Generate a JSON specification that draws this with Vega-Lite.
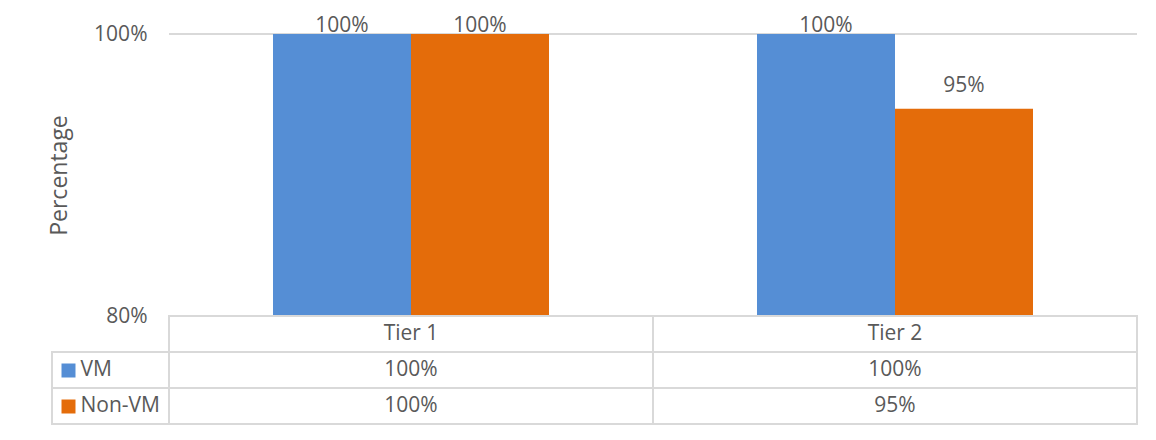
{
  "$schema": "https://vega.github.io/schema/vega-lite/v6.json",
  "width": 1085,
  "height": 390,
  "autosize": {"type": "none"},
  "padding": {"left": 52, "top": 34, "right": 19, "bottom": 16},
  "background": "white",
  "config": {
    "view": {"stroke": null},
    "font": "Open Sans",
    "text": {"font": "Open Sans", "fontSize": 21, "color": "#595959"}
  },
  "datasets": {
    "scores": [
      {"tier": "Tier 1", "series": "VM", "value": 1.0},
      {"tier": "Tier 1", "series": "Non-VM", "value": 1.0},
      {"tier": "Tier 2", "series": "VM", "value": 1.0},
      {"tier": "Tier 2", "series": "Non-VM", "value": 0.947}
    ]
  },
  "data": {"name": "scores"},
  "layer": [
    {
      "layer": [
        {
          "transform": [{"filter": "datum.series === 'VM'"}],
          "mark": {"type": "rect", "fillOpacity": 0, "stroke": "#d9d9d9", "strokeWidth": 2},
          "encoding": {
            "x": {"field": "tier", "type": "nominal", "scale": {"domain": ["Tier 1", "Tier 2"], "range": [117, 1085], "paddingInner": 0, "paddingOuter": 0}, "axis": null},
            "y": {"datum": 1, "type": "quantitative"},
            "y2": {"datum": 1}
          }
        },
        {
          "mark": {"type": "bar"},
          "encoding": {
            "x": {"field": "tier", "type": "nominal", "scale": {"domain": ["Tier 1", "Tier 2"], "range": [117, 1085], "paddingInner": 0, "paddingOuter": 0}, "axis": null},
            "xOffset": {"field": "series", "type": "nominal", "scale": {"domain": ["VM", "Non-VM"], "paddingOuter": 0.7536, "paddingInner": 0}},
            "y": {
              "field": "value", "type": "quantitative",
              "scale": {"domain": [0.8, 1], "range": [282, 0], "zero": false, "nice": false},
              "axis": {
                "orient": "left", "offset": -117, "values": [0.8, 1], "format": ".0%",
                "ticks": false, "domain": false, "grid": false, "zindex": 1,
                "labelPadding": 22, "labelFontSize": 21, "labelColor": "#595959", "labelFont": "Open Sans",
                "title": "Percentage", "titleFontSize": 23, "titleFontWeight": "normal",
                "titleColor": "#595959", "titleFont": "Open Sans", "titlePadding": 22
              }
            },
            "y2": {"datum": 0.8},
            "color": {"field": "series", "type": "nominal", "scale": {"domain": ["VM", "Non-VM"], "range": ["#558ed5", "#e46c0a"]}, "legend": null}
          }
        },
        {
          "transform": [{"filter": "datum.value >= 0.995"}],
          "mark": {"type": "text", "baseline": "alphabetic", "dy": -2, "fontSize": 21, "color": "#595959"},
          "encoding": {
            "x": {"field": "tier", "type": "nominal"},
            "xOffset": {"field": "series", "type": "nominal"},
            "y": {"field": "value", "type": "quantitative"},
            "text": {"field": "value", "type": "quantitative", "format": ".0%"}
          }
        },
        {
          "transform": [{"filter": "datum.value < 0.995"}],
          "mark": {"type": "text", "baseline": "alphabetic", "dy": -17, "fontSize": 21, "color": "#595959"},
          "encoding": {
            "x": {"field": "tier", "type": "nominal"},
            "xOffset": {"field": "series", "type": "nominal"},
            "y": {"field": "value", "type": "quantitative"},
            "text": {"field": "value", "type": "quantitative", "format": ".0%"}
          }
        }
      ]
    },
    {
      "layer": [
        {
          "transform": [{"filter": "datum.tier === 'Tier 1'"}],
          "mark": {"type": "rect", "fill": "white", "stroke": "#d9d9d9", "strokeWidth": 2},
          "encoding": {
            "y": {
              "field": "series", "type": "nominal",
              "scale": {"domain": ["hdr", "VM", "Non-VM"], "range": [282, 390], "paddingInner": 0, "paddingOuter": 0},
              "axis": {
                "orient": "left", "offset": -23, "title": null, "domain": false, "grid": false, "zindex": 1,
                "ticks": true, "tickSize": 14, "tickWidth": 14,
                "tickColor": {"condition": {"test": "datum.value === 'VM'", "value": "#558ed5"}, "value": "#e46c0a"},
                "tickOpacity": {"condition": {"test": "datum.value === 'hdr'", "value": 0}, "value": 1},
                "labelExpr": "datum.value === 'hdr' ? '' : datum.value",
                "labelAlign": "left", "labelPadding": -19, "labelFontSize": 21,
                "labelColor": "#595959", "labelFont": "Open Sans"
              }
            }
          }
        },
        {
          "mark": {"type": "rect", "fill": "white", "stroke": "#d9d9d9", "strokeWidth": 2},
          "encoding": {
            "x": {"field": "tier", "type": "nominal"},
            "y": {"field": "series", "type": "nominal"}
          }
        },
        {
          "transform": [{"filter": "datum.series === 'VM'"}],
          "mark": {"type": "rect", "fill": "white", "stroke": "#d9d9d9", "strokeWidth": 2},
          "encoding": {
            "x": {"field": "tier", "type": "nominal"},
            "y": {"datum": "hdr", "type": "nominal"}
          }
        },
        {
          "mark": {"type": "text", "baseline": "middle", "fontSize": 21, "color": "#595959"},
          "encoding": {
            "x": {"field": "tier", "type": "nominal"},
            "y": {"field": "series", "type": "nominal"},
            "text": {"field": "value", "type": "quantitative", "format": ".0%"}
          }
        },
        {
          "transform": [{"filter": "datum.series === 'VM'"}],
          "mark": {"type": "text", "baseline": "middle", "fontSize": 21, "color": "#595959"},
          "encoding": {
            "x": {"field": "tier", "type": "nominal"},
            "y": {"datum": "hdr", "type": "nominal"},
            "text": {"field": "tier", "type": "nominal"}
          }
        }
      ]
    }
  ],
  "resolve": {"scale": {"y": "independent"}, "axis": {"y": "independent"}}
}
